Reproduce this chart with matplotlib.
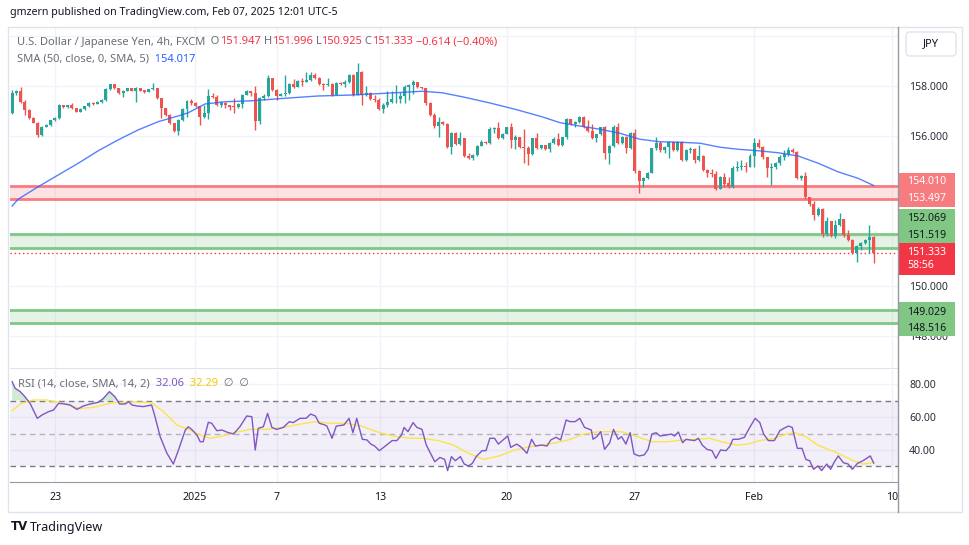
import numpy as np
import matplotlib
matplotlib.use("Agg")
import matplotlib.pyplot as plt
import matplotlib.transforms as mtransforms
from matplotlib.patches import Rectangle, FancyBboxPatch

plt.rcParams['font.family'] = ['Noto Sans', 'DejaVu Sans']

# ---- USD/JPY 4h candles ----
first_open = 156.91
closes = [
    157.71, 157.78, 157.37, 157.04, 156.71, 156.53, 156.04, 156.37, 156.44, 156.64,
    156.72, 157.24, 157.17, 157.22, 157.11, 156.97, 157.09, 157.18, 157.33, 157.29,
    157.37, 157.44, 157.87, 158.08, 157.91, 157.71, 157.80, 157.91, 157.82, 157.91,
    157.82, 157.77, 157.86, 157.91, 157.51, 157.11, 156.84, 156.51, 156.21, 156.64,
    157.08, 157.41, 157.31, 157.20, 156.77, 156.93, 157.60, 157.57, 157.24, 157.33,
    157.24, 157.17, 157.16, 157.28, 157.64, 157.81, 157.72, 156.61, 157.53, 157.61,
    158.31, 157.84, 157.60, 157.69, 157.73, 158.08, 157.97, 158.21, 158.17, 158.24,
    158.45, 158.31, 158.08, 158.04, 158.08, 157.64, 158.13, 158.08, 158.17, 158.44,
    157.64, 158.57, 157.64, 157.71, 157.47, 157.45, 157.07, 157.24, 157.37, 157.47,
    157.49, 157.60, 157.97, 158.04, 158.17, 157.95, 157.91, 157.33, 156.84, 156.40,
    156.57, 156.48, 155.55, 156.13, 155.68, 155.91, 155.20, 155.11, 155.24, 155.60,
    155.77, 155.71, 156.27, 156.30, 155.91, 156.08, 156.35, 155.84, 155.95, 155.55,
    155.50, 155.28, 155.91, 155.51, 155.64, 155.47, 155.71, 155.87, 155.64, 155.95,
    156.67, 156.48, 156.55, 156.77, 156.37, 156.21, 155.91, 156.08, 156.35, 155.33,
    155.60, 156.37, 155.73, 155.97, 155.51, 156.11, 154.61, 154.21, 154.31, 154.53,
    155.51, 155.73, 155.44, 155.55, 155.77, 155.44, 155.77, 155.04, 155.44, 155.47,
    155.04, 155.20, 154.64, 154.51, 154.47, 153.87, 154.35, 154.10, 153.95, 154.71,
    154.77, 154.80, 154.77, 155.21, 155.71, 155.57, 155.15, 154.71, 154.75, 154.91,
    155.17, 155.29, 155.44, 155.34, 154.31, 154.40, 153.57, 153.29, 152.84, 153.07,
    152.08, 152.61, 152.00, 152.44, 152.67, 152.04, 151.84, 151.33, 151.61, 151.73,
    151.84, 151.95, 151.33,
]
highs = [
    157.84, 157.84, 157.97, 157.44, 157.06, 156.74, 156.56, 156.40, 156.48, 156.66,
    156.75, 157.27, 157.26, 157.26, 157.31, 157.14, 157.12, 157.21, 157.36, 157.35,
    157.40, 157.47, 157.90, 158.10, 158.09, 157.93, 157.83, 157.93, 157.93, 157.94,
    157.93, 157.85, 157.88, 158.11, 157.93, 157.53, 157.14, 156.87, 156.53, 156.68,
    157.12, 157.44, 157.47, 157.36, 157.21, 157.24, 157.87, 157.71, 157.63, 157.40,
    157.36, 157.26, 157.51, 157.31, 157.67, 157.84, 157.80, 158.00, 157.56, 157.67,
    158.44, 158.33, 157.87, 157.72, 158.44, 158.11, 158.27, 158.24, 158.31, 158.57,
    158.55, 158.53, 158.35, 158.12, 158.31, 158.14, 158.15, 158.15, 158.24, 158.47,
    158.47, 158.93, 158.60, 158.00, 157.75, 157.64, 157.51, 157.30, 157.81, 157.81,
    158.04, 157.77, 158.04, 158.10, 158.24, 158.17, 157.97, 157.93, 157.37, 156.91,
    156.77, 156.58, 156.51, 156.16, 156.15, 156.17, 155.93, 155.31, 155.27, 155.62,
    155.84, 155.79, 156.37, 156.35, 156.57, 156.11, 156.37, 156.51, 156.04, 155.97,
    156.27, 155.60, 155.93, 156.11, 155.66, 155.64, 155.77, 155.95, 156.11, 155.97,
    156.71, 156.68, 156.61, 156.81, 156.79, 156.64, 156.48, 156.10, 156.37, 156.40,
    155.63, 156.44, 156.51, 156.00, 156.00, 156.15, 156.27, 154.64, 154.35, 154.57,
    155.53, 155.95, 155.80, 155.60, 155.80, 155.79, 155.80, 155.80, 155.47, 155.57,
    155.51, 155.64, 155.24, 154.68, 154.70, 154.60, 154.40, 154.51, 154.35, 154.80,
    154.99, 155.03, 154.97, 155.27, 155.91, 155.88, 155.61, 155.15, 154.91, 154.97,
    155.24, 155.44, 155.57, 155.51, 155.40, 154.44, 154.55, 153.57, 153.40, 153.15,
    153.11, 152.75, 152.61, 152.64, 152.91, 152.70, 152.24, 151.87, 151.64, 151.76,
    151.87, 152.44, 152.00,
]
lows = [
    156.88, 157.65, 157.30, 156.84, 156.68, 156.50, 155.97, 155.99, 156.35, 156.42,
    156.60, 156.70, 157.14, 157.12, 157.07, 156.94, 156.95, 157.05, 157.15, 157.26,
    157.28, 157.33, 157.40, 157.85, 157.88, 157.68, 157.55, 157.78, 157.79, 157.37,
    157.80, 157.72, 157.74, 157.84, 157.49, 156.71, 156.80, 156.48, 156.17, 156.04,
    156.60, 156.75, 157.24, 157.15, 156.44, 156.71, 156.67, 157.51, 157.20, 157.16,
    157.11, 157.04, 156.91, 157.13, 157.14, 157.62, 157.58, 156.24, 156.48, 157.45,
    157.57, 157.80, 157.44, 157.58, 157.60, 157.67, 157.91, 157.94, 158.00, 158.15,
    158.20, 158.27, 158.04, 157.83, 158.00, 157.60, 157.62, 158.04, 157.98, 158.13,
    157.60, 157.62, 157.24, 157.60, 157.44, 157.37, 157.03, 156.93, 157.17, 157.33,
    157.31, 157.33, 157.33, 157.44, 157.68, 157.93, 157.88, 157.24, 156.80, 156.31,
    155.97, 156.45, 155.51, 155.28, 155.65, 155.66, 155.15, 155.08, 155.04, 155.20,
    155.58, 155.69, 155.69, 156.13, 155.88, 155.89, 156.06, 155.51, 155.47, 155.53,
    154.93, 154.84, 155.26, 155.49, 155.48, 155.44, 155.38, 155.68, 155.60, 155.60,
    155.87, 156.44, 156.35, 156.51, 156.33, 156.17, 155.88, 155.77, 156.03, 155.07,
    154.88, 155.57, 155.70, 155.70, 155.33, 155.47, 154.51, 153.73, 153.97, 154.28,
    154.50, 155.44, 155.38, 155.31, 155.11, 155.40, 155.40, 155.00, 155.00, 155.30,
    154.90, 155.00, 154.60, 154.35, 154.37, 153.84, 153.87, 153.95, 153.92, 153.90,
    154.60, 154.65, 154.57, 154.74, 154.77, 155.50, 155.10, 154.37, 154.04, 154.67,
    154.85, 155.05, 155.20, 155.30, 154.28, 154.26, 153.47, 153.20, 152.64, 152.80,
    151.97, 152.00, 151.95, 151.93, 152.40, 151.98, 151.80, 151.28, 150.97, 151.44,
    151.67, 151.33, 150.93,
]

# SMA(50) on price (bar index, value)
sma_idx = [0, 1.4, 6.1, 10.8, 15.5, 20.2, 24.8, 29.5, 34.2, 38.9,
           41.3, 45.2, 49.9, 56.3, 64.0, 71.7, 79.7, 89.8, 96.1, 100.8,
           105.5, 111.8, 117.9, 124.2, 128.5, 133.1, 137.8, 142.5, 147.2, 151.9,
           156.6, 161.3, 166.0, 170.2, 174.9, 179.6, 184.3, 189.0, 193.6, 198.3, 202.0]
sma_val = [153.20, 153.47, 153.97, 154.44, 154.91, 155.41, 155.84, 156.24, 156.57, 156.80,
           156.93, 157.28, 157.37, 157.41, 157.51, 157.60, 157.64, 157.73, 157.79, 157.73,
           157.57, 157.33, 157.07, 156.77, 156.53, 156.40, 156.27, 156.11, 155.87, 155.77,
           155.75, 155.71, 155.55, 155.47, 155.41, 155.33, 155.20, 154.91, 154.57, 154.31, 154.02]

# RSI(14) line
rsi_idx = [0, 0.7, 1.9, 3.0, 4.2, 5.9, 7.0, 8.5, 9.7, 10.9,
           12.4, 13.6, 15.2, 16.7, 18.3, 20.2, 21.4, 22.8, 24.1, 25.2,
           26.5, 27.3, 28.1, 29.2, 30.8, 32.7, 33.5, 34.7, 36.3, 37.8,
           39.0, 40.6, 41.3, 42.1, 43.3, 44.1, 44.8, 46.0, 46.8, 48.0,
           49.2, 50.7, 51.9, 53.4, 55.0, 56.2, 57.0, 57.7, 58.9, 59.9,
           60.9, 62.0, 63.6, 65.0, 65.9, 67.5, 68.9, 70.0, 71.1, 72.0,
           73.3, 73.8, 75.0, 76.0, 77.8, 79.0, 79.9, 80.8, 82.1, 83.2,
           84.1, 85.0, 86.1, 87.3, 89.1, 90.2, 91.3, 91.9, 92.8, 94.0,
           94.9, 96.1, 97.1, 98.5, 99.1, 100.3, 101.4, 102.1, 103.0, 103.9,
           105.1, 106.0, 107.0, 107.9, 108.8, 110.2, 111.1, 112.0, 113.1, 114.0,
           115.1, 116.2, 116.9, 118.3, 119.4, 120.7, 121.8, 122.7, 124.1, 125.4,
           126.3, 127.5, 128.6, 129.9, 130.8, 132.0, 133.1, 134.2, 135.8, 136.2,
           137.1, 138.0, 138.9, 140.1, 141.0, 142.1, 142.9, 143.9, 144.9, 145.8,
           147.0, 148.2, 149.1, 150.0, 151.0, 151.9, 153.5, 154.5, 155.3, 156.2,
           157.2, 158.0, 158.9, 160.0, 160.9, 161.8, 162.9, 164.1, 165.0, 166.1,
           167.4, 168.3, 169.0, 170.3, 171.7, 172.6, 174.2, 175.3, 176.2, 177.3,
           178.7, 180.0, 180.9, 182.0, 182.9, 184.1, 185.2, 186.1, 187.0, 187.9,
           188.9, 189.8, 191.0, 191.9, 192.8, 193.7, 194.9, 196.0, 197.0, 198.2,
           199.5, 201.2, 202.0]
rsi_val = [81.4, 77.4, 75.4, 72.3, 68.3, 59.2, 61.2, 63.2, 64.2, 68.3,
           67.9, 67.3, 64.6, 66.7, 67.9, 68.9, 71.3, 75.4, 72.3, 67.9,
           67.9, 69.3, 67.3, 66.7, 66.3, 67.3, 60.2, 48.1, 38.0, 31.5,
           40.0, 52.1, 54.1, 52.5, 49.1, 45.0, 45.0, 56.8, 56.2, 51.7,
           52.1, 50.5, 49.7, 54.1, 60.6, 60.2, 40.0, 53.1, 54.1, 62.2,
           53.7, 52.5, 53.7, 57.2, 56.6, 59.2, 59.2, 61.8, 60.6, 56.2,
           55.2, 54.5, 47.1, 54.5, 55.2, 59.2, 50.5, 59.2, 46.5, 46.1,
           43.6, 42.4, 39.6, 42.0, 45.7, 45.7, 49.1, 53.7, 51.1, 56.6,
           53.7, 52.5, 43.0, 36.0, 32.9, 35.5, 34.3, 27.5, 36.0, 33.5,
           36.0, 31.5, 30.3, 31.9, 36.0, 39.6, 39.6, 47.1, 47.1, 43.6,
           46.1, 48.5, 41.6, 43.6, 41.6, 38.0, 46.5, 42.4, 43.0, 42.4,
           46.1, 47.7, 46.1, 58.2, 57.2, 57.2, 59.2, 53.7, 52.1, 46.5,
           48.1, 51.1, 40.4, 44.4, 52.5, 46.5, 48.1, 43.6, 50.5, 37.6,
           36.4, 37.0, 40.4, 49.7, 50.5, 48.5, 49.1, 49.7, 48.5, 50.9,
           44.4, 46.5, 46.1, 45.7, 47.1, 43.0, 40.4, 39.6, 34.9, 40.0,
           39.6, 42.4, 46.5, 46.5, 47.7, 52.1, 59.2, 56.6, 49.7, 45.7,
           45.7, 51.7, 53.1, 54.5, 53.7, 41.0, 41.0, 34.3, 33.5, 28.3,
           30.3, 27.5, 31.5, 28.3, 32.9, 36.4, 32.3, 31.5, 28.3, 31.9,
           33.5, 36.4, 32.1]

# SMA(14) of RSI
rsi_sma_idx = [0, 1.9, 5.0, 8.1, 11.2, 15.9, 19.1, 23.7, 28.4, 32.7,
               35.5, 38.6, 41.7, 44.1, 46.4, 48.7, 51.9, 55.8, 59.7, 63.6,
               67.5, 71.1, 74.7, 78.3, 81.9, 85.5, 89.1, 93.6, 96.3, 99.9,
               103.5, 107.0, 110.6, 114.2, 117.8, 121.4, 125.9, 130.4, 134.0, 137.6,
               142.9, 146.5, 150.1, 153.7, 157.3, 160.9, 163.6, 166.3, 169.9, 172.6,
               175.3, 178.9, 181.6, 183.4, 186.1, 188.8, 193.3, 196.9, 199.5, 202.0]
rsi_sma_val = [63.8, 67.9, 70.3, 70.3, 68.7, 65.2, 65.9, 68.7, 69.1, 68.7,
               63.2, 55.2, 52.1, 49.1, 47.1, 48.1, 50.5, 52.5, 52.5, 53.7,
               55.7, 57.2, 56.2, 56.2, 54.5, 51.1, 48.5, 47.1, 47.1, 45.7,
               43.0, 38.0, 34.3, 36.4, 40.0, 42.0, 43.6, 46.1, 49.7, 51.1,
               51.1, 48.1, 45.0, 45.0, 46.1, 46.5, 47.1, 45.0, 43.0, 43.6,
               45.7, 47.1, 49.7, 50.5, 48.1, 43.0, 38.4, 33.9, 31.5, 32.3]

# horizontal zones drawn by the author
red_zone = (153.497, 154.010)
green_zones = [(151.519, 152.069), (148.516, 149.029)]
last_price = 151.333

# time axis labels (bar index where the label sits)
date_pos = [10.1, 42.9, 62.1, 86.3, 116.0, 146.0, 174.0, 206.3]
date_labels = ['23', '2025', '7', '13', '20', '27', 'Feb', '10']

UP = '#26A69A'
DOWN = '#EF5350'
GRID = '#F0F3FA'
TXT = '#131722'
GRAY = '#6A6D78'
FS = 7.6

W, H = 970, 545
fig = plt.figure(figsize=(W / 100, H / 100), dpi=100)
fig.patch.set_facecolor('white')


def fbox(x0, y0, x1, y1):
    return [x0 / W, 1 - y1 / H, (x1 - x0) / W, (y1 - y0) / H]


ax = fig.add_axes(fbox(10, 28, 898, 368))
axr = fig.add_axes(fbox(10, 370, 898, 482), sharex=ax)

closes = np.array(closes)
highs = np.array(highs)
lows = np.array(lows)
opens = np.r_[first_open, closes[:-1]]
idx = np.arange(len(closes))
colors = np.where(closes >= opens, UP, DOWN)

# ---- price pane ----
ax.set_axisbelow(True)
ax.grid(True, color=GRID, lw=1)
ax.axhspan(*red_zone, color='#F23645', alpha=0.14, lw=0, zorder=1)
for v in red_zone:
    ax.axhline(v, color='#F77C80', lw=2, zorder=2)
for z in green_zones:
    ax.axhspan(*z, color='#4CAF50', alpha=0.14, lw=0, zorder=1)
    for v in z:
        ax.axhline(v, color='#81C784', lw=2, zorder=2)
ax.axhline(last_price, color='#F23645', lw=1, ls=(0, (1, 2)), zorder=2)

ax.vlines(idx, lows, highs, colors=colors, lw=1, zorder=3)
body_h = np.maximum(np.abs(closes - opens), 0.02)
ax.bar(idx, body_h, bottom=np.minimum(opens, closes), width=0.7,
       color=colors, lw=0, zorder=4)
ax.plot(sma_idx, sma_val, color='#2962FF', lw=1.0, alpha=0.8, zorder=5)

ax.set_xlim(-0.5, 207.7)
ax.set_ylim(146.72, 160.32)
price_ticks = [148, 150, 152, 154, 156, 158, 160]
ax.set_yticks(price_ticks)
# 152, 154 sit under the zone labels and 160 under the currency button
ax.set_yticklabels(['' if v in (152, 154, 160) else f'{v:.3f}' for v in price_ticks])
ax.yaxis.tick_right()
ax.tick_params(axis='y', length=0, pad=8, labelsize=FS, labelcolor='#2A2E39')
ax.tick_params(axis='x', length=0, labelbottom=False)
ax.set_xticks(date_pos)
for s in ['left', 'top', 'right']:
    ax.spines[s].set_visible(False)
ax.spines['bottom'].set_color('#E0E3EB')

# price-scale labels
tr = mtransforms.blended_transform_factory(ax.transAxes, ax.transData)
label_boxes = [
    # (box top, box bottom, face, text colour, [(text, y)])
    (red_zone[1] + 0.51, red_zone[0] - 0.34, '#F77C80', 'white',
     [(f'{red_zone[1]:.3f}', red_zone[1] + 0.15), (f'{red_zone[0]:.3f}', red_zone[0] + 0.02)]),
    (green_zones[0][1] + 1.01, green_zones[0][0] + 0.20, '#81C784', TXT,
     [(f'{green_zones[0][1]:.3f}', green_zones[0][1] + 0.65), (f'{green_zones[0][0]:.3f}', green_zones[0][0] + 0.52)]),
    (last_price + 0.39, last_price - 0.89, '#F23645', 'white',
     [(f'{last_price:.3f}', last_price - 0.01), ('58:56', last_price - 0.53)]),
    (green_zones[1][1] + 0.33, green_zones[1][0] - 0.52, '#81C784', TXT,
     [(f'{green_zones[1][1]:.3f}', green_zones[1][1] - 0.07), (f'{green_zones[1][0]:.3f}', green_zones[1][0] - 0.20)]),
]
for top, bot, face, tc, lines in label_boxes:
    ax.add_patch(Rectangle((1.0011, bot), 0.0631, top - bot, transform=tr,
                           facecolor=face, edgecolor='none', clip_on=False, zorder=10))
    for t, y in lines:
        ax.text(1.0101, y, t, transform=tr, color=tc, fontsize=FS,
                va='center', ha='left', clip_on=False, zorder=11)

# ---- RSI pane ----
axr.set_axisbelow(True)
axr.grid(True, color=GRID, lw=1)
axr.axhspan(30, 70, color='#7E57C2', alpha=0.09, lw=0)
axr.axhline(70, color='#787B86', lw=1, ls=(0, (4, 3)))
axr.axhline(50, color='#B2B5BE', lw=1, ls=(0, (4, 3)))
axr.axhline(30, color='#787B86', lw=1, ls=(0, (4, 3)))
rx = np.array(rsi_idx)
rv = np.array(rsi_val)
axr.fill_between(rx, 70, rv, where=rv > 70, interpolate=True,
                 color='#4CAF50', alpha=0.25, lw=0)
axr.fill_between(rx, 30, rv, where=rv < 30, interpolate=True,
                 color='#F23645', alpha=0.2, lw=0)
axr.plot(rsi_sma_idx, rsi_sma_val, color='#F9E54B', lw=1.0)
axr.plot(rx, rv, color='#7E57C2', lw=1.0)

axr.set_ylim(20.6, 88.5)
axr.set_yticks([40, 60, 80])
axr.set_yticklabels(['40.00', '60.00', '80.00'])
axr.yaxis.tick_right()
axr.tick_params(axis='y', length=0, pad=8, labelsize=FS, labelcolor='#2A2E39')
axr.set_xticks(date_pos)
axr.set_xticklabels(date_labels)
axr.tick_params(axis='x', length=0, pad=7, labelsize=FS, labelcolor=TXT)
for s in ['left', 'top', 'right']:
    axr.spines[s].set_visible(False)
axr.spines['bottom'].set_color('#9598A1')

# ---- overlay: frame, legends, header ----
ov = fig.add_axes([0, 0, 1, 1])
ov.set_xlim(0, W)
ov.set_ylim(H, 0)
ov.axis('off')
ov.add_patch(Rectangle((8, 27), 954, 485, fill=False, ec='#E0E3EB', lw=1))
ov.plot([898, 898], [27, 512], color='#9598A1', lw=1)
ov.add_patch(FancyBboxPatch((906, 32), 50, 24, boxstyle='round,pad=0,rounding_size=4',
                            fc='white', ec='#E0E3EB', lw=1))
ov.text(931, 44, 'JPY', fontsize=8, color=TXT, ha='center', va='center')

ov.text(10, 13, 'gmzern published on TradingView.com, Feb 07, 2025 12:01 UTC-5',
        fontsize=7.65, color=TXT, va='center', ha='left')


def chain(x, y, parts, size=8.0):
    prev = ov.text(x, y, parts[0][0], color=parts[0][1], fontsize=size,
                   va='center', ha='left')
    for s, c in parts[1:]:
        prev = ov.annotate(s, xy=(1, 0.5), xycoords=prev, va='center', ha='left',
                           color=c, fontsize=size)
    return prev


RED_T = '#F23645'
chain(17, 42, [('U.S. Dollar / Japanese Yen, 4h, FXCM', GRAY),
               ('  O', GRAY), ('151.947', RED_T), (' H', GRAY), ('151.996', RED_T),
               (' L', GRAY), ('150.925', RED_T), (' C', GRAY), ('151.333', RED_T),
               (' \u22120.614 (\u22120.40%)', RED_T)])
chain(17, 59, [('SMA (50, close, 0, SMA, 5)', GRAY), ('  154.017', '#2962FF')])
chain(18, 384, [('RSI (14, close, SMA, 14, 2)', GRAY), ('  32.06', '#7E57C2'),
                ('  32.29', '#F2CB05'), ('  \u2205  \u2205', GRAY)])

ov.text(11, 527, 'TV', fontsize=8.5, fontweight='heavy', color=TXT,
        va='center', ha='left', family='DejaVu Sans')
ov.text(30, 527, 'TradingView', fontsize=9, color=TXT, va='center', ha='left')

fig.savefig('out.png', dpi=100, facecolor='white')
